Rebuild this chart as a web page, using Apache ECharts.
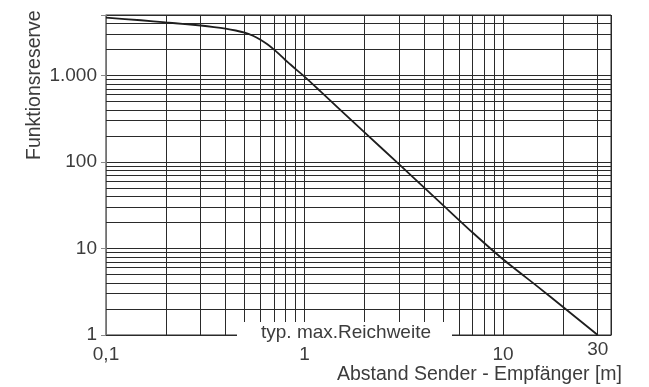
<!DOCTYPE html>
<html>
<head>
<meta charset="utf-8">
<script src="https://cdn.jsdelivr.net/npm/echarts@6/dist/echarts.min.js"></script>
<style>html,body{margin:0;padding:0;background:#fff}#c{width:649px;height:387px}</style>
</head>
<body>
<div id="c"></div>
<script>
// ---- data ----
const xTicks = [0.1, 1, 10];
const xTickLabels = ['0,1', '1', '10'];
const xExtraTick = 30;
const xExtraLabel = '30';
const yTicks = [1, 10, 100, 1000];
const yTickLabels = ['1', '10', '100', '1.000'];
const xMinorGrid = [0.2, 0.3, 0.4, 0.5, 0.6, 0.7, 0.8, 0.9, 2, 3, 4, 5, 6, 7, 8, 9, 20];
const yMinorGrid = [2, 3, 4, 5, 6, 7, 8, 9, 20, 30, 40, 50, 60, 70, 80, 90,
                    200, 300, 400, 500, 600, 700, 800, 900, 2000, 3000, 4000];
const distance = [0.1, 0.15, 0.2, 0.25, 0.3, 0.35, 0.4, 0.45, 0.5, 0.55, 0.6, 0.65, 0.7, 0.75, 0.8, 0.85, 0.9, 1.0, 1.2, 1.5, 2, 3, 5, 7, 10, 15, 20, 30];
const reserve  = [4650, 4350, 4100, 3930, 3780, 3630, 3480, 3310, 3120, 2880, 2590, 2290, 2000, 1740, 1510, 1340, 1190, 970, 660, 409, 221, 94, 31.5, 15.4, 7.5, 3.6, 2.12, 1];
const xTitle = 'Abstand Sender - Empfänger [m]';
const yTitle = 'Funktionsreserve';
const note = 'typ. max.Reichweite';

const FONT = 'Liberation Sans, Arial, Helvetica, sans-serif';
const TXT = '#3c3c3c';
const GRID = '#2a2a2a';

function lbl(ticks, labels) {
  return function (v) {
    for (let i = 0; i < ticks.length; i++) {
      if (Math.abs(v - ticks[i]) / ticks[i] < 1e-6) return labels[i];
    }
    return '';
  };
}

const markData = xMinorGrid.map(v => ({ xAxis: v }))
  .concat([{ xAxis: xExtraTick, label: { show: true, position: 'start', formatter: xExtraLabel,
      distance: 5, color: TXT, fontSize: 19, fontFamily: FONT } }])
  .concat(yMinorGrid.map(v => ({ yAxis: v })));

const chart = echarts.init(document.getElementById('c'), null, { renderer: 'canvas' });
chart.setOption({
  animation: false,
  backgroundColor: '#fff',
  grid: { left: 106, right: 38, top: 15, bottom: 52, show: true, borderColor: GRID, borderWidth: 1,
          containLabel: false, outerBoundsMode: 'none' },
  xAxis: {
    type: 'log', logBase: 10, min: 0.1, max: 35,
    axisLine: { show: true, lineStyle: { color: GRID, width: 1.2 } },
    axisTick: { show: false },
    axisLabel: { formatter: lbl(xTicks, xTickLabels), color: TXT, fontSize: 19, fontFamily: FONT, margin: 10,
                 showMinLabel: true, showMaxLabel: true },
    splitLine: { show: true, lineStyle: { color: GRID, width: 1 } },
    minorTick: { show: false }, minorSplitLine: { show: false }
  },
  yAxis: {
    type: 'log', logBase: 10, min: 1, max: 5000,
    axisLine: { show: true, lineStyle: { color: '#8a8a8a', width: 1.5 } },
    axisTick: { show: true, length: 5, lineStyle: { color: '#8a8a8a' } },
    axisLabel: { formatter: lbl(yTicks, yTickLabels), color: TXT, fontSize: 19, fontFamily: FONT, margin: 9 },
    splitLine: { show: true, lineStyle: { color: GRID, width: 1 } }
  },
  series: [{
    type: 'line',
    data: distance.map((d, i) => [d, reserve[i]]),
    smooth: 0.25,
    showSymbol: false,
    symbol: 'none',
    lineStyle: { color: '#1e1e1e', width: 1.8 },
    z: 5,
    markLine: {
      silent: true, symbol: 'none', animation: false,
      label: { show: false },
      lineStyle: { color: GRID, width: 1, type: 'solid' },
      emphasis: { disabled: true },
      data: markData
    }
  }],
  graphic: [
    { type: 'rect', z: 100, shape: { x: 237, y: 322, width: 215, height: 20 }, style: { fill: '#fff' } },
    { type: 'text', z: 101, x: 346, y: 333, style: { text: note, align: 'center', verticalAlign: 'middle',
        fill: TXT, font: '19px ' + FONT } },
    { type: 'text', z: 101, x: 35, y: 160, rotation: Math.PI / 2, style: { text: yTitle, align: 'left',
        verticalAlign: 'middle', fill: TXT, font: '19.5px ' + FONT } },
    { type: 'text', z: 101, x: 622, y: 375, style: { text: xTitle, align: 'right', verticalAlign: 'middle',
        fill: TXT, font: '19.5px ' + FONT } }
  ]
});
</script>
</body>
</html>
